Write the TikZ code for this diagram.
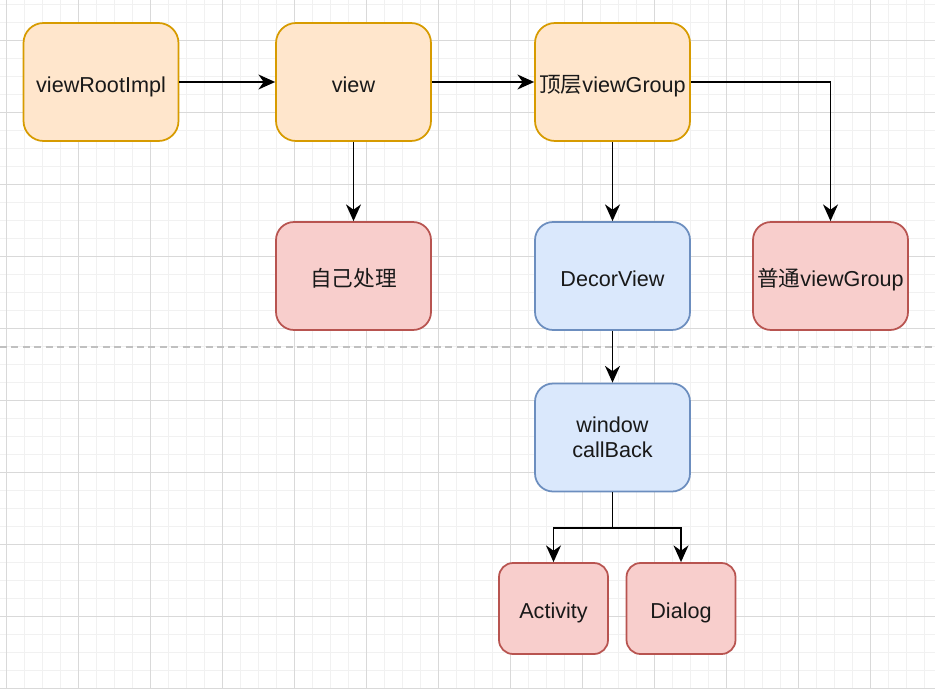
\documentclass[tikz,border=0pt]{standalone}
\usepackage{fontspec}
\setmainfont{Liberation Sans}
\newfontfamily\cjk{Noto Sans CJK SC}
\usepackage{xcolor}
\usetikzlibrary{arrows.meta}
\definecolor{orfill}{HTML}{FFE6CC}
\definecolor{ordraw}{HTML}{D79B00}
\definecolor{rdfill}{HTML}{F8CECC}
\definecolor{rddraw}{HTML}{B85450}
\definecolor{blfill}{HTML}{DAE8FC}
\definecolor{bldraw}{HTML}{6C8EBF}
\definecolor{gridmaj}{HTML}{D9D9D9}
\definecolor{gridmin}{HTML}{F1F1F1}
\definecolor{sepline}{HTML}{C0C0C0}

\begin{document}
\begin{tikzpicture}[x=0.02cm,y=-0.02cm,
    box/.style={draw,rounded corners=0.36cm,line width=1pt,minimum width=3.1cm,
        align=center,inner sep=0pt,text=black!90,text height=11.4pt,text depth=0pt,
        font=\fontsize{12.3}{14.2}\selectfont},
    orbox/.style={box,fill=orfill,draw=ordraw,minimum height=2.36cm,rounded corners=0.4cm},
    rdbox/.style={box,fill=rdfill,draw=rddraw,minimum height=2.16cm},
    blbox/.style={box,fill=blfill,draw=bldraw,minimum height=2.16cm},
    smallbox/.style={rdbox,minimum width=2.18cm,minimum height=1.82cm,rounded corners=0.28cm},
    arr/.style={-{Stealth[length=9.5pt,width=8.5pt,inset=3pt]},line width=1.1pt}]
        \useasboundingbox[fill=white] (0,0) rectangle (935,689);
        \foreach \x in {6,24,...,935} \draw[gridmin,line width=0.55pt] (\x,0) -- (\x,689);
        \foreach \y in {4,22,...,689} \draw[gridmin,line width=0.55pt] (0,\y) -- (935,\y);
        \foreach \x in {6,78,...,935} \draw[gridmaj,line width=0.55pt] (\x,0) -- (\x,689);
        \foreach \y in {40,112,...,689} \draw[gridmaj,line width=0.55pt] (0,\y) -- (935,\y);
        \draw[sepline,line width=0.6pt,dash pattern=on 4pt off 2.5pt] (0,347) -- (935,347);

        \node[orbox] (root) at (101,82) {viewRootImpl};
        \node[orbox] (view) at (353.5,82) {view};
        \node[orbox] (top) at (612.5,82) {{\cjk 顶层}viewGroup};
        \node[rdbox] (self) at (353.5,276) {\cjk 自己处理};
        \node[blbox] (decor) at (612.5,276) {DecorView};
        \node[rdbox] (normal) at (830.5,276) {{\cjk 普通}viewGroup};
        \node[blbox,text height=23pt] (win) at (612.5,437.5) {window\\callBack};
        \node[smallbox] (act) at (553.5,608.5) {Activity};
        \node[smallbox] (dlg) at (681,608.5) {Dialog};
        \coordinate (fork) at (612.5,528);

        \draw[arr] (root) -- (view);
        \draw[arr] (view) -- (top);
        \draw[arr] (top) -| (normal);
        \draw[arr] (view) -- (self);
        \draw[arr] (top) -- (decor);
        \draw[arr] (decor) -- (win);
        \draw[arr] (win) -- (fork) -| (act);
        \draw[arr] (fork) -| (dlg);
    \end{tikzpicture}
\end{document}
